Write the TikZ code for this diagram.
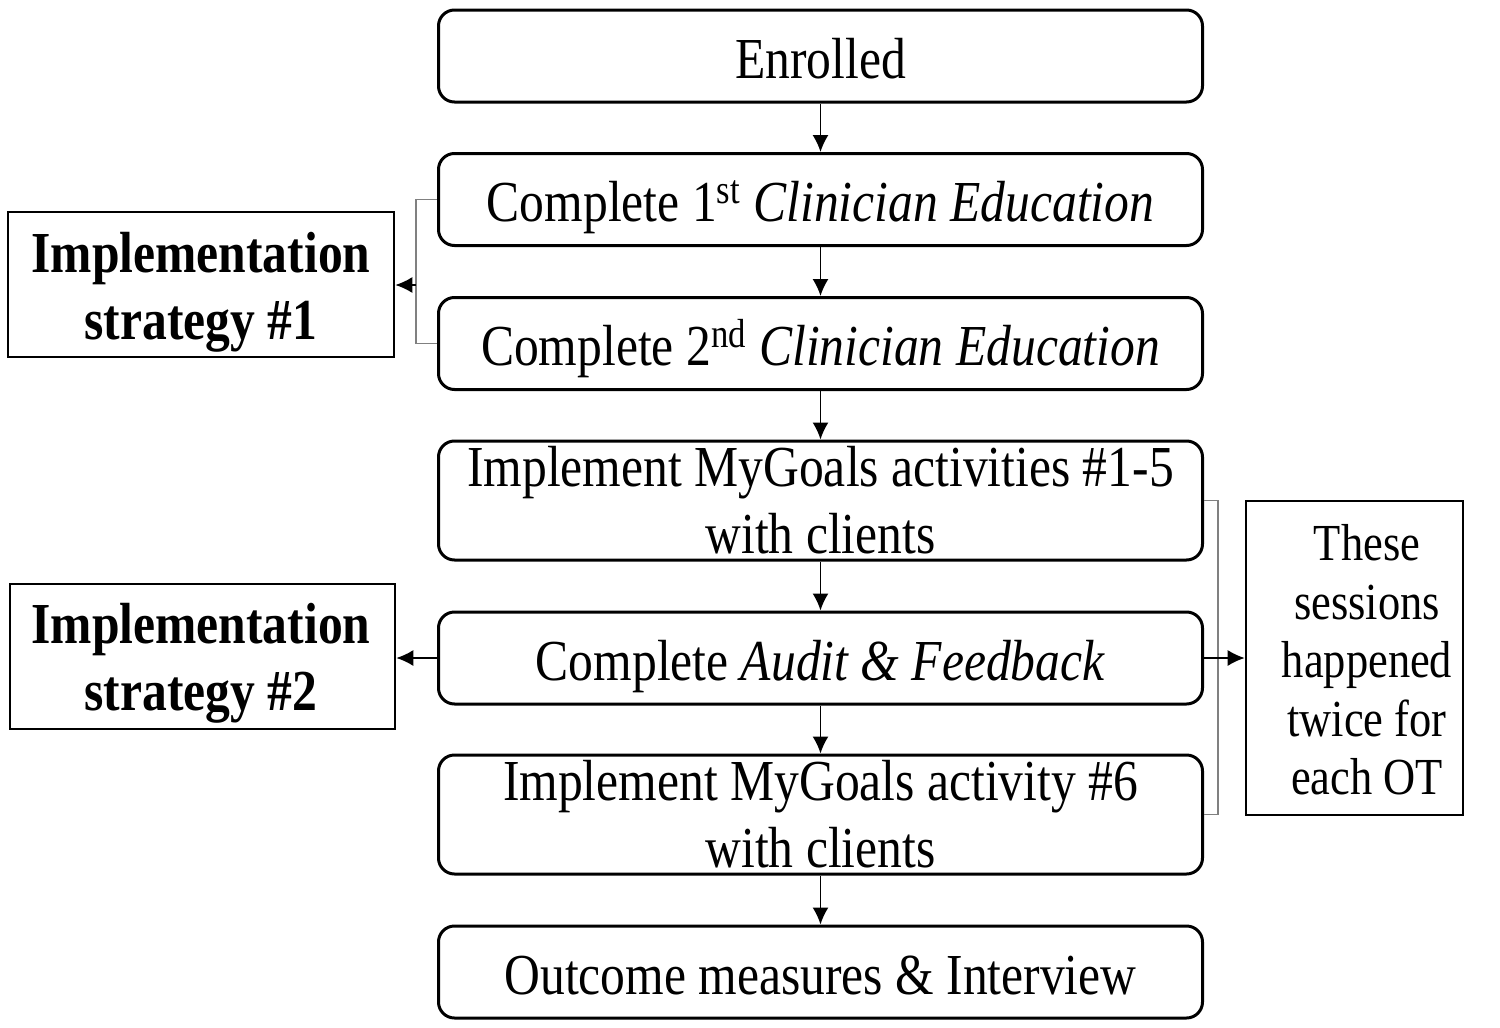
\documentclass[tikz,border=0pt]{standalone}
\usepackage{fontspec}
\setmainfont[FakeStretch=0.855]{Liberation Serif}
\usetikzlibrary{arrows.meta}
\begin{document}
\begin{tikzpicture}[x=0.5pt,y=-0.5pt,
  flowbox/.style={draw,line width=1.5pt,rounded corners=8pt,minimum width=382pt,minimum height=46pt,inner sep=0pt,align=center,font=\fontsize{29}{33.5}\selectfont},
  onebox/.style={flowbox,text height=24pt,text depth=2pt},
  tallbox/.style={flowbox,minimum height=59.5pt},
  sidebox/.style={draw,line width=1.3pt,inner sep=0pt},
  sidetext/.style={inner sep=0pt,align=center,font=\fontsize{29}{33.5}\selectfont\bfseries},
  notebox/.style={draw,line width=1.3pt,inner sep=0pt},
  notetext/.style={inner sep=0pt,align=center,font=\fontsize{26}{29.2}\selectfont},
  arr/.style={-{Latex[length=8.5pt,width=8pt]},line width=0.8pt},
  brk/.style={line width=0.8pt,draw=black!50}]
\useasboundingbox (0,0) rectangle (1500,1028);
\node[onebox] (b1) at (820.5,56) {Enrolled};
\node[onebox] (b2) at (820.5,199.5) {Complete 1\textsuperscript{st} \textit{Clinician Education}};
\node[onebox] (b3) at (820.5,343.5) {Complete 2\textsuperscript{nd} \textit{Clinician Education}};
\node[tallbox] (b4) at (820.5,500.5) {Implement MyGoals activities \#1-5\\with clients};
\node[onebox] (b5) at (820.5,658) {Complete \textit{Audit \& Feedback}};
\node[tallbox] (b6) at (820.5,814.5) {Implement MyGoals activity \#6\\with clients};
\node[onebox] (b7) at (820.5,972) {Outcome measures \& Interview};
\node[sidebox,minimum width=193pt,minimum height=72.5pt] (s1) at (201,284.5) {};
\node[sidetext] (s1t) at (201,292) {Implementation\\strategy \#1};
\node[sidebox,minimum width=192.5pt,minimum height=72.5pt] (s2) at (202.5,656.5) {};
\node[sidetext] (s2t) at (201,663) {Implementation\\strategy \#2};
\node[notebox,minimum width=108.5pt,minimum height=157pt] (n1) at (1354.5,658) {};
\node[notetext] (n1t) at (1367,660) {These\\sessions\\happened\\twice for\\each OT};
\foreach \a/\b in {b1/b2,b2/b3,b3/b4,b4/b5,b5/b6,b6/b7}
  \draw[arr] (\a.south) -- (\b.north);
\coordinate (lt) at (416,199.5);
\coordinate (lb) at (416,343.5);
\coordinate (lm) at (416,285);
\draw[brk] (b2.west) -- (lt) -- (lb) -- (b3.west);
\draw[arr] (lm) -- (s1.east |- lm);
\draw[arr] (b5.west) -- (s2.east |- b5.west);
\coordinate (rt) at (1218,500.5);
\coordinate (rb) at (1218,814.5);
\draw[brk] (b4.east) -- (rt) -- (rb) -- (b6.east);
\draw[arr] (b5.east) -- (n1.west);
\end{tikzpicture}
\end{document}
